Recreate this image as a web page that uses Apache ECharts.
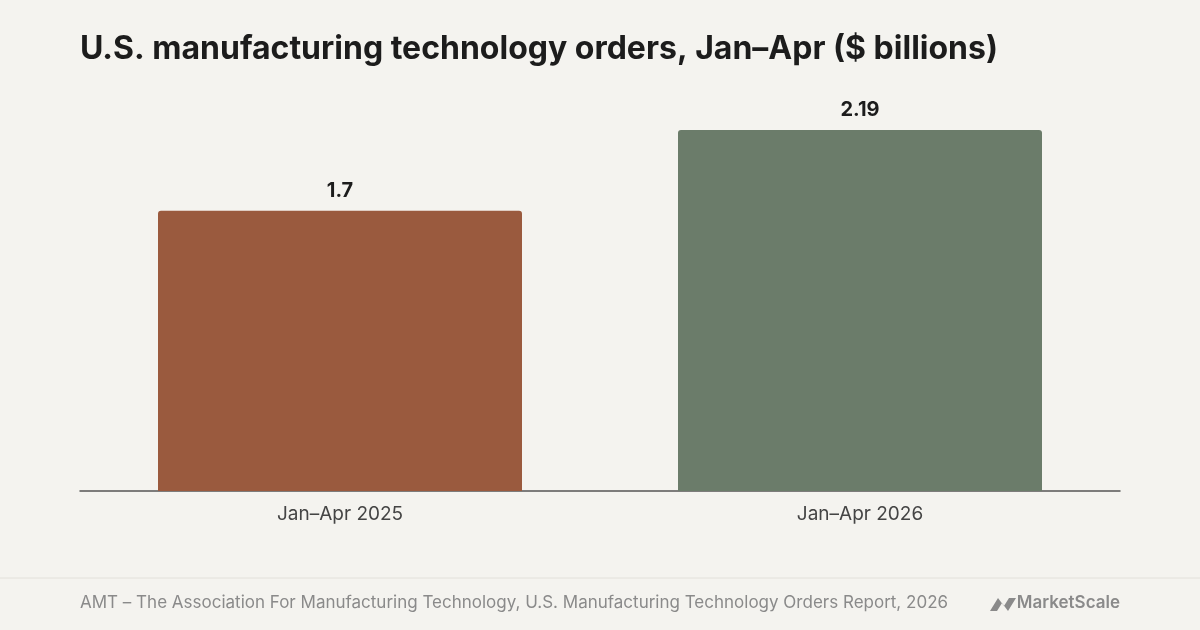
<!DOCTYPE html>
<html><head><meta charset="utf-8">
<script src="https://cdn.jsdelivr.net/npm/echarts@6/dist/echarts.min.js"></script>
<style>html,body{margin:0;padding:0;background:#f4f3ef}#c{width:1200px;height:630px}</style>
</head><body><div id="c"></div>
<script>
const categories = ["Jan–Apr 2025", "Jan–Apr 2026"];
const values = [1.7, 2.19];
const colors = ["#9a5a3e", "#6b7c6a"];
const chart = echarts.init(document.getElementById('c'));
chart.setOption({
  backgroundColor: '#f4f3ef',
  animation: false,
  title: {
    text: 'U.S. manufacturing technology orders, Jan–Apr ($ billions)',
    left: 80, top: 33, padding: 0,
    textStyle: {fontFamily: 'Inter', fontSize: 32, fontWeight: 'bold', color: '#1c1c1c'}
  },
  grid: {left: 80, right: 80, top: 130, bottom: 139},
  xAxis: {
    type: 'category', data: categories,
    axisLine: {lineStyle: {color: '#555', width: 1.5}},
    axisTick: {show: false},
    axisLabel: {fontFamily: 'Inter', fontSize: 19, color: '#444', margin: 14}
  },
  yAxis: {type: 'value', min: 0, max: 2.19, show: false, splitLine: {show: false}},
  series: [{
    type: 'bar', barWidth: '70%',
    data: values.map((v, i) => ({value: v, itemStyle: {color: colors[i], borderRadius: [3,3,0,0]}})),
    label: {show: true, position: 'top', distance: 10, fontFamily: 'Inter', fontSize: 20, fontWeight: 'bold', color: '#1c1c1c'}
  }],
  graphic: [
    {type: 'line', shape: {x1: 0, y1: 578, x2: 1200, y2: 578}, style: {stroke: '#e2e0da', lineWidth: 1}},
    {type: 'text', left: 80, top: 594, style: {text: 'AMT – The Association For Manufacturing Technology, U.S. Manufacturing Technology Orders Report, 2026', font: '17px Inter', fill: '#8a8a8a'}},
    {type: 'text', right: 80, top: 594, style: {text: 'MarketScale', font: '600 17px Inter', fill: '#8a8a8a'}},
    {type: 'polygon', shape: {points: [[990,611],[998,598],[1004,606],[1009,598],[1016,598],[1008,611],[1002,603],[997,611]]}, style: {fill: '#8a8a8a'}}
  ]
});
</script></body></html>
